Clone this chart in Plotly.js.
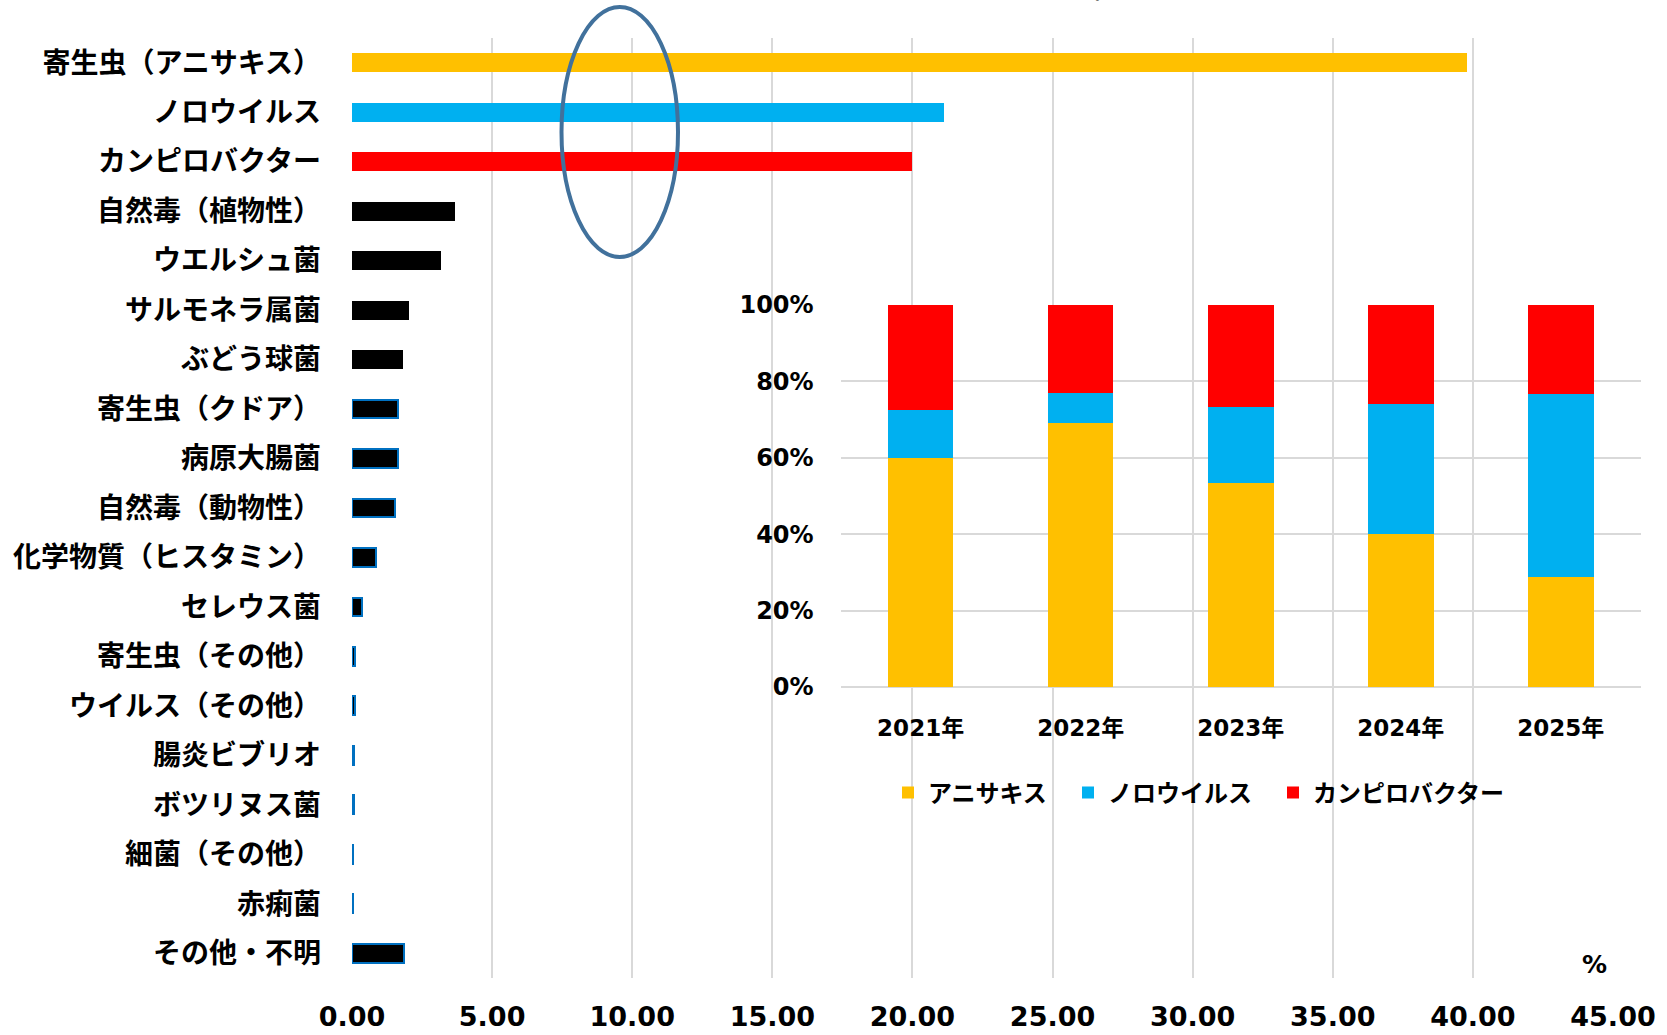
<!DOCTYPE html>
<html>
<head>
<meta charset="utf-8">
<script src="https://cdn.plot.ly/plotly-3.0.1.min.js"></script>
<style>html,body{margin:0;padding:0;background:#fff;}#chart{width:1667px;height:1035px;}</style>
</head>
<body>
<div id="chart"></div>
<script>
// Main chart: share of food poisoning cases by cause (%)
const causes = [
  '寄生虫（アニサキス）','ノロウイルス','カンピロバクター','自然毒（植物性）','ウエルシュ菌',
  'サルモネラ属菌','ぶどう球菌','寄生虫（クドア）','病原大腸菌','自然毒（動物性）',
  '化学物質（ヒスタミン）','セレウス菌','寄生虫（その他）','ウイルス（その他）','腸炎ビブリオ',
  'ボツリヌス菌','細菌（その他）','赤痢菌','その他・不明'
];
const causeValues = [39.78, 21.14, 19.97, 3.69, 3.18, 2.04, 1.82, 1.65, 1.63, 1.52,
  0.86, 0.34, 0.11, 0.11, 0.08, 0.06, 0.03, 0.02, 1.86];
const causeColors = ['#FFC000','#00B0F0','#FF0000','#000000','#000000','#000000','#000000',
  '#000000','#000000','#000000','#000000','#000000','#000000','#000000','#000000','#000000',
  '#000000','#000000','#000000'];
const causeOutlineWidths = [0,0,0,0,0,0,0,2,2,2,2,2,2,2,2,2,2,2,2];
const xTicks = [0, 5, 10, 15, 20, 25, 30, 35, 40, 45];

// Inset chart: 100% stacked share by year
const years = ['2021年','2022年','2023年','2024年','2025年'];
const anisakis = [59.9, 69.1, 53.3, 40.1, 28.8];
const norovirus = [12.6, 7.8, 20.1, 34.0, 47.9];
const campylobacter = [27.5, 23.1, 26.6, 25.9, 23.3];
const pctTicks = [0, 20, 40, 60, 80, 100];
const pctTickText = ['0%', '20%', '40%', '60%', '80%', '100%'];

const FONT = 'DejaVu Sans, Noto Sans CJK JP, sans-serif';
const JFONT = 'Noto Sans CJK JP, DejaVu Sans, sans-serif';

const traces = [
  {
    type: 'bar', orientation: 'h', y: causes, x: causeValues,
    xaxis: 'x', yaxis: 'y', width: 0.38, showlegend: false,
    marker: { color: causeColors, line: { color: '#0070C0', width: causeOutlineWidths } }
  },
  { type: 'bar', name: 'アニサキス', x: years, y: anisakis, xaxis: 'x2', yaxis: 'y2', width: 0.41,
    marker: { color: '#FFC000' }, legend: 'legend' },
  { type: 'bar', name: 'ノロウイルス', x: years, y: norovirus, xaxis: 'x2', yaxis: 'y2', width: 0.41,
    marker: { color: '#00B0F0' }, legend: 'legend2' },
  { type: 'bar', name: 'カンピロバクター', x: years, y: campylobacter, xaxis: 'x2', yaxis: 'y2', width: 0.41,
    marker: { color: '#FF0000' }, legend: 'legend3' }
];

function legendAt(px) {
  return {
    orientation: 'h', x: px/1667, xanchor: 'left', y: 1 - 793/1035, yanchor: 'middle',
    bgcolor: 'rgba(0,0,0,0)', font: { family: JFONT, size: 24, weight: 'bold', color: '#000' },
    itemclick: false
  };
}

const layout = {
  width: 1667, height: 1035,
  margin: { l: 0, r: 0, t: 0, b: 0 },
  paper_bgcolor: '#ffffff', plot_bgcolor: 'rgba(0,0,0,0)',
  barmode: 'stack',
  font: { family: FONT, color: '#000000' },
  xaxis: {
    domain: [352/1667, 1613/1667], anchor: 'y', range: [0, 45],
    tickvals: xTicks, tickformat: '.2f',
    showgrid: true, gridcolor: '#D9D9D9', gridwidth: 2,
    zeroline: false, showline: false, ticks: '',
    tickfont: { family: FONT, size: 27, weight: 'bold', color: '#000' },
    ticklabelstandoff: 20, fixedrange: true
  },
  yaxis: {
    domain: [57/1035, 997/1035], anchor: 'x', type: 'category',
    range: [18.5, -0.5], showgrid: false, zeroline: false, showline: false, ticks: '',
    tickfont: { family: JFONT, size: 28, weight: 'bold', color: '#000' },
    ticklabelstandoff: 30, fixedrange: true
  },
  xaxis2: {
    domain: [840.6/1667, 1640.8/1667], anchor: 'y2', type: 'category',
    showgrid: false, zeroline: false, showline: false, ticks: '',
    tickfont: { family: FONT, size: 23, weight: 'bold', color: '#000' },
    ticklabelstandoff: 25, fixedrange: true
  },
  yaxis2: {
    domain: [348/1035, 730/1035], anchor: 'x2', range: [0, 100],
    tickvals: pctTicks, ticktext: pctTickText,
    showgrid: true, gridcolor: '#D9D9D9', gridwidth: 2,
    zeroline: true, zerolinecolor: '#D9D9D9', zerolinewidth: 2,
    showline: false, ticks: '',
    tickfont: { family: FONT, size: 24, weight: 'bold', color: '#000' },
    ticklabelstandoff: 26, fixedrange: true
  },
  legend: legendAt(888),
  legend2: legendAt(1068),
  legend3: legendAt(1273),
  shapes: [
    { type: 'circle', xref: 'paper', yref: 'paper',
      x0: 561.5/1667, x1: 678/1667, y0: 1 - 257/1035, y1: 1 - 7/1035,
      line: { color: '#41719C', width: 4 }, fillcolor: 'rgba(0,0,0,0)' }
  ],
  annotations: [
    { text: '%', xref: 'paper', yref: 'paper', x: 1594/1667, y: 1 - 964/1035,
      xanchor: 'center', yanchor: 'middle', showarrow: false,
      font: { family: FONT, size: 25, weight: 'bold', color: '#000' } },
    { text: '/', xref: 'paper', yref: 'paper', x: 1100/1667, y: 1 - 6/1035,
      xanchor: 'center', yanchor: 'bottom', showarrow: false,
      font: { family: FONT, size: 24, weight: 'bold', color: '#000' } }
  ],
  hovermode: false
};

Plotly.newPlot('chart', traces, layout, { displayModeBar: false, staticPlot: true });
</script>
</body>
</html>
